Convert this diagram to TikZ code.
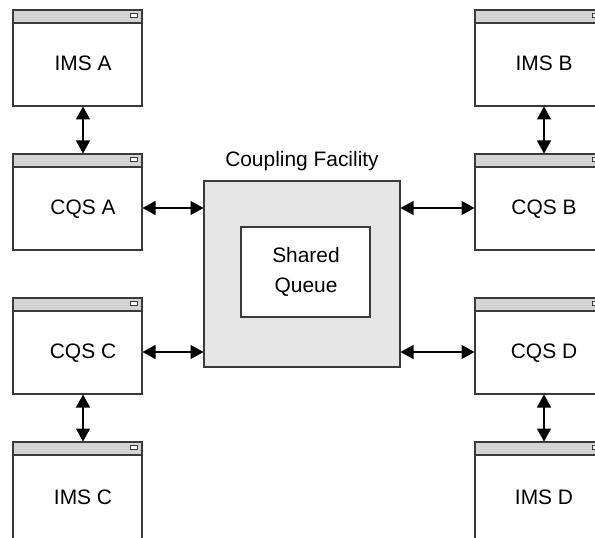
\documentclass[tikz,border=0pt]{standalone}
\usepackage{fontspec}
\setmainfont{Liberation Sans}
\usetikzlibrary{arrows.meta}
\definecolor{linec}{HTML}{3A3A3A}
\definecolor{barc}{HTML}{D3D3D3}
\definecolor{cfc}{HTML}{E6E6E6}
\begin{document}
\begin{tikzpicture}[x=1bp,y=-1bp,
  win/.style={draw=linec, line width=1.1bp, minimum width=129bp, minimum height=96bp,
    inner sep=0pt, outer sep=0pt, anchor=north west,
    path picture={
      \fill[barc] (path picture bounding box.north west) rectangle ([yshift=-13bp]path picture bounding box.north east);
      \draw[linec, line width=1.1bp] ([yshift=-13bp]path picture bounding box.north west) -- ([yshift=-13bp]path picture bounding box.north east);
      \draw[linec, fill=white, line width=0.7bp] ([xshift=-12bp,yshift=-3.5bp]path picture bounding box.north east) rectangle ([xshift=-5bp,yshift=-7.5bp]path picture bounding box.north east);
    }},
  lbl/.style={font=\fontsize{21}{30}\selectfont, inner sep=0pt, align=center},
  arr/.style={{Triangle[length=13bp,width=14bp]}-{Triangle[length=13bp,width=14bp]}, line width=1.3bp, black, shorten <=0.5bp, shorten >=0.5bp},
  box/.style={draw=linec, line width=1.1bp, inner sep=0pt, outer sep=0pt, anchor=north west}
]
\clip (0,0) rectangle (595,538);
% left column
\node[win] (imsa) at (13,10) {};
\node[lbl] (imsat) at (83,63) {IMS A};
\node[win] (cqsa) at (13,154) {};
\node[lbl] (cqsat) at (83,209) {CQS A};
\node[win] (cqsc) at (13,298) {};
\node[lbl] (cqsct) at (83,353) {CQS C};
\node[win, minimum height=100bp] (imsc) at (13,442) {};
\node[lbl] (imsct) at (83,497) {IMS C};
% right column
\node[win] (imsb) at (475,10) {};
\node[lbl] (imsbt) at (544,63) {IMS B};
\node[win] (cqsb) at (475,154) {};
\node[lbl] (cqsbt) at (544,209) {CQS B};
\node[win] (cqsd) at (475,298) {};
\node[lbl] (cqsdt) at (544,353) {CQS D};
\node[win, minimum height=100bp] (imsd) at (475,442) {};
\node[lbl] (imsdt) at (544,497) {IMS D};
% coupling facility
\node[box, fill=cfc, minimum width=196bp, minimum height=186bp] (cf) at (204,181) {};
\node[lbl] (cft) at (302,161) {Coupling Facility};
\node[box, fill=white, minimum width=129bp, minimum height=90bp] (sq) at (241,227) {};
\node[lbl] (sqt) at (306,272) {Shared\\Queue};
% vertical arrows
\draw[arr] ([xshift=5.5bp]imsa.south) -- ([xshift=5.5bp]cqsa.north);
\draw[arr] ([xshift=5.5bp]cqsc.south) -- ([xshift=5.5bp]imsc.north);
\draw[arr] ([xshift=4.5bp]imsb.south) -- ([xshift=4.5bp]cqsb.north);
\draw[arr] ([xshift=4.5bp]cqsd.south) -- ([xshift=4.5bp]imsd.north);
% horizontal arrows
\draw[arr] ([yshift=-6bp]cqsa.east) -- ([yshift=-6bp]cqsa.east -| cf.west);
\draw[arr] ([yshift=-6bp]cqsc.east) -- ([yshift=-6bp]cqsc.east -| cf.west);
\draw[arr] ([yshift=-6bp]cqsb.west -| cf.east) -- ([yshift=-6bp]cqsb.west);
\draw[arr] ([yshift=-6bp]cqsd.west -| cf.east) -- ([yshift=-6bp]cqsd.west);
\end{tikzpicture}
\end{document}
